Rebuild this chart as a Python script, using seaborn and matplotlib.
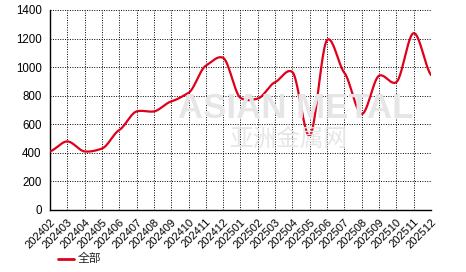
import numpy as np
import pandas as pd
import matplotlib
matplotlib.use("Agg")
import matplotlib.pyplot as plt
import seaborn as sns

months = ["202402", "202403", "202404", "202405", "202406", "202407", "202408",
          "202409", "202410", "202411", "202412", "202501", "202502", "202503",
          "202504", "202505", "202506", "202507", "202508", "202509", "202510",
          "202511", "202512"]
values = [410, 480, 410, 430, 560, 690, 690, 760, 820, 1010, 1065, 785, 780,
          895, 965, 520, 1190, 960, 672, 940, 895, 1238, 945]
series_name = "全部"
y_ticks = [0, 200, 400, 600, 800, 1000, 1200, 1400]

sns.set_style("white")
plt.rcParams['font.family'] = ['Liberation Sans', 'Noto Sans CJK SC', 'DejaVu Sans']

fig = plt.figure(figsize=(4.66, 2.72), dpi=100)
ax = fig.add_axes([50/466, 1-210/272, (431-50)/466, 200/272])

# smooth rendering (cardinal spline, reduced tension) of the data line
x = np.arange(len(values), dtype=float)
y = np.array(values, dtype=float)
k = 0.55
m = np.zeros_like(y)
m[1:-1] = k * (y[2:] - y[:-2]) / 2
m[0] = k * (y[1] - y[0])
m[-1] = k * (y[-1] - y[-2])
t = np.linspace(0, 1, 24, endpoint=False)
h00 = 2*t**3 - 3*t**2 + 1
h10 = t**3 - 2*t**2 + t
h01 = -2*t**3 + 3*t**2
h11 = t**3 - t**2
xs, ys = [], []
for i in range(len(y) - 1):
    xs.extend(x[i] + t)
    ys.extend(h00*y[i] + h10*m[i] + h01*y[i+1] + h11*m[i+1])
xs.append(x[-1]); ys.append(y[-1])
curve = pd.DataFrame({"x": xs, "y": ys, "s": series_name})

# watermark
fig.text(0.635, 0.60, "ASIAN METAL", fontsize=25, color="#e6e6e6", ha="center",
         va="center", fontweight="bold", zorder=0)
fig.text(0.62, 0.485, "亚洲金属网", fontsize=17, color="#e6e6e6", ha="center",
         va="center", zorder=0)
ax.patch.set_alpha(0)

sns.lineplot(data=curve, x="x", y="y", hue="s", palette=["#e0001b"], lw=1.6,
             ax=ax, sort=False, estimator=None, legend=False, zorder=3)

ax.set_xlim(0, len(months) - 1)
ax.set_ylim(0, 1400)
ax.set_xticks(x)
ax.set_xticklabels(months, rotation=45, ha="right", rotation_mode="anchor", fontsize=8)
ax.set_yticks(y_ticks)
ax.set_yticklabels([str(v) for v in y_ticks], fontsize=8.3)
ax.set_xlabel("")
ax.set_ylabel("")
ax.grid(True, color="black", linestyle=(0, (1, 1.5)), linewidth=0.7)
for s in ["top", "right"]:
    ax.spines[s].set_visible(False)
for s in ["left", "bottom"]:
    ax.spines[s].set_color("black")
    ax.spines[s].set_linewidth(1.0)
ax.tick_params(axis="both", direction="out", length=4, width=1, color="black", pad=2,
               labelcolor="black")
ax.tick_params(axis="x", pad=1)

# legend
fig.lines.append(plt.Line2D([58/466, 74/466], [1-259/272, 1-259/272],
                            color="#e0001b", lw=2.0, transform=fig.transFigure))
fig.text(78/466, 1-259/272, series_name, fontsize=8.5, va="center", ha="left")

fig.savefig("out.png", dpi=100)
